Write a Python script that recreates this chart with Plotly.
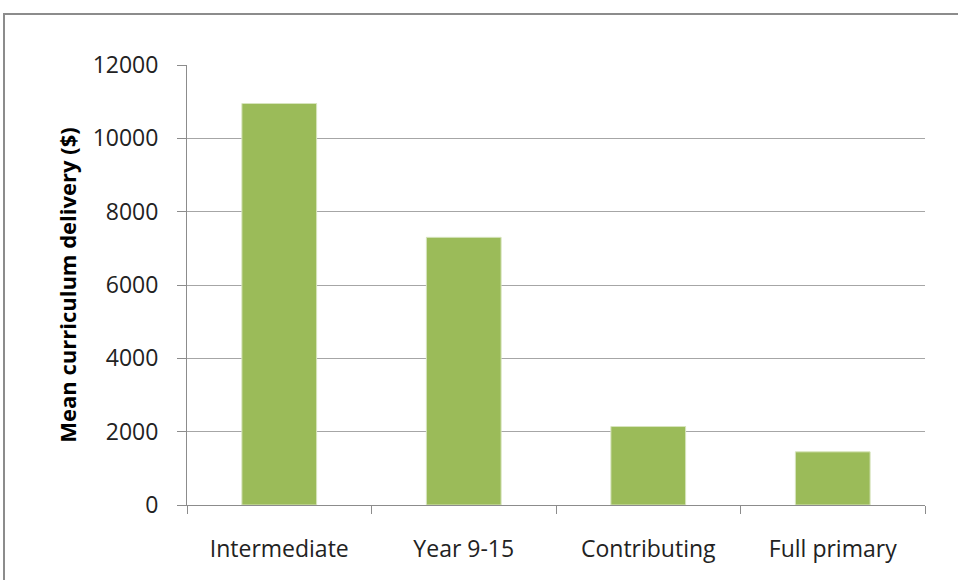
import plotly.graph_objects as go

CATEGORIES = ["Intermediate", "Year 9-15", "Contributing", "Full primary"]
MEAN_DELIVERY = [10950, 7300, 2140, 1450]
Y_TICKS = [0, 2000, 4000, 6000, 8000, 10000, 12000]
Y_TICK_TEXT = ["0", "2000", "4000", "6000", "8000", "10000", "12000"]

BAR_COLOR = "#9BBB59"
GRID_COLOR = "#A6A6A6"
AXIS_COLOR = "#8C8C8C"
FONT = "Open Sans, Liberation Sans, Arial, sans-serif"

W, H = 958, 580
L, R, T, B = 187, 33, 65, 75

fig = go.Figure(
    go.Bar(
        x=CATEGORIES,
        y=MEAN_DELIVERY,
        marker=dict(color=BAR_COLOR, line=dict(color="#D7E4BD", width=1)),
        width=0.405,
        hoverinfo="x+y",
    )
)

fig.update_layout(
    width=W,
    height=H,
    margin=dict(l=L, r=R, t=T, b=B),
    paper_bgcolor="white",
    plot_bgcolor="white",
    showlegend=False,
    font=dict(family=FONT, size=23, color="#222222"),
)

fig.update_yaxes(
    range=[0, 12000],
    tickvals=Y_TICKS,
    ticktext=Y_TICK_TEXT,
    showgrid=True,
    gridcolor=GRID_COLOR,
    gridwidth=1,
    zeroline=False,
    showline=True,
    linecolor=AXIS_COLOR,
    linewidth=1,
    ticks="outside",
    ticklen=9,
    tickcolor=AXIS_COLOR,
    ticklabelstandoff=14,
    title=dict(
        text="<b>Mean curriculum delivery ($)</b>",
        font=dict(size=22, color="#000000"),
        standoff=9,
    ),
)

fig.update_xaxes(
    showline=True,
    linecolor=AXIS_COLOR,
    linewidth=1,
    ticks="outside",
    ticklen=8,
    tickcolor=AXIS_COLOR,
    tickson="boundaries",
    ticklabelstandoff=23,
)

# outer chart border, like the spreadsheet chart frame
pw = W - L - R
ph = H - T - B
fig.add_shape(
    type="rect",
    xref="paper",
    yref="paper",
    x0=(4 - L) / pw,
    x1=(W + 10 - L) / pw,
    y0=(H - B - (H + 10)) / ph,
    y1=1 + (T - 14) / ph,
    line=dict(color="#8C8C8C", width=2),
    fillcolor="rgba(0,0,0,0)",
    layer="below",
)

# page margin off so the figure sits at the window's top-left corner
fig.write_html(
    "out.html",
    config={"displayModeBar": False},
    post_script="document.body.style.margin = '0';",
)
